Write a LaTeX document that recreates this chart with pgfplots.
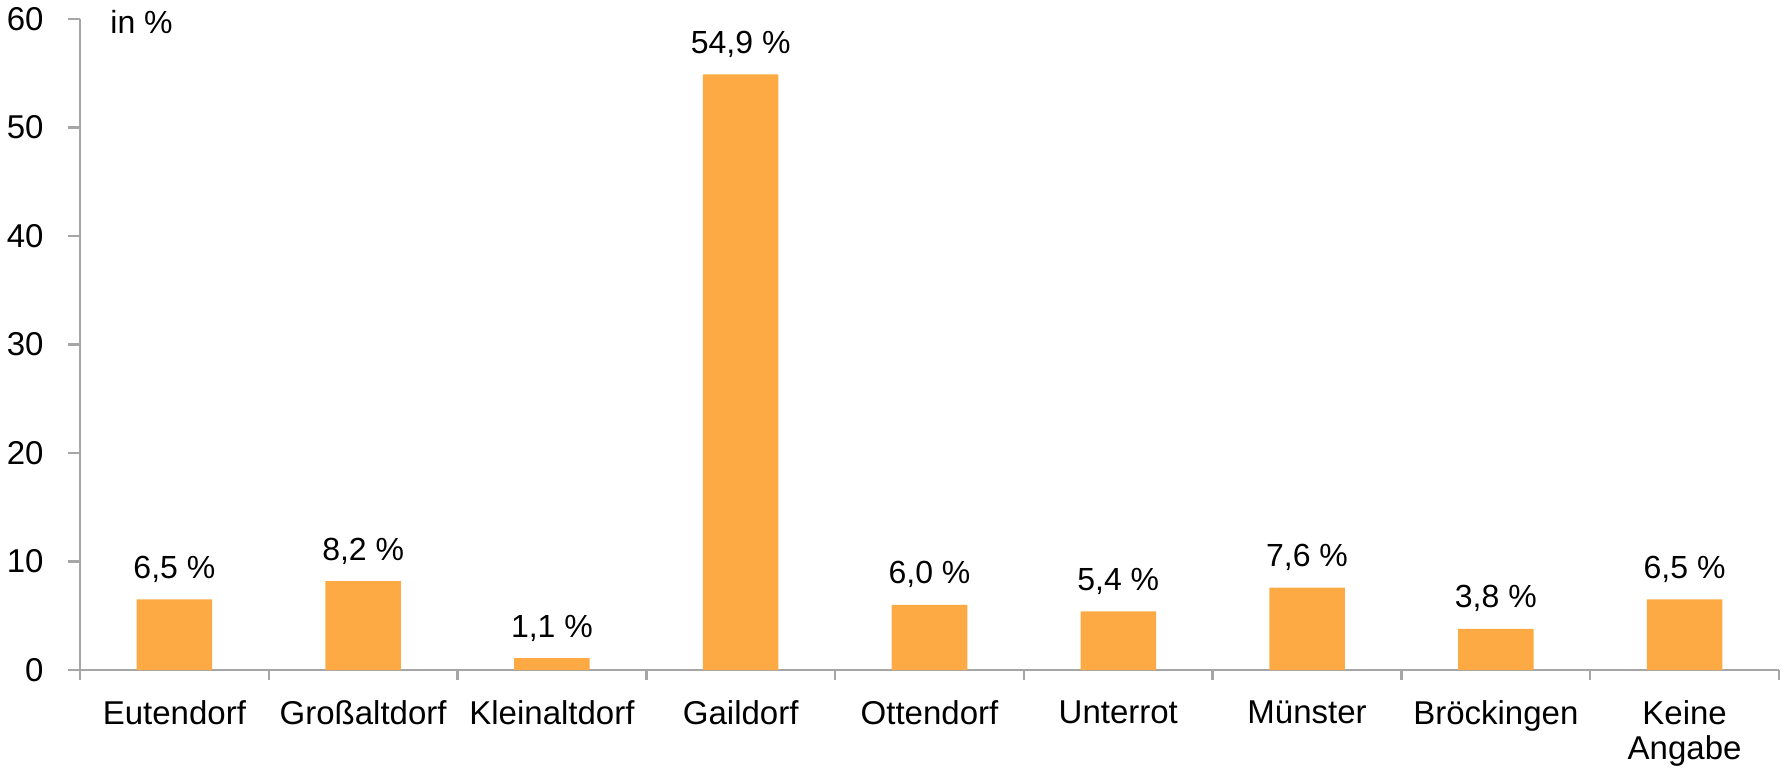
\documentclass[border=0pt]{standalone}
\usepackage{pgfplots}
\pgfplotsset{compat=1.18}
\usepackage{fontspec}
\setmainfont{Liberation Sans}
\definecolor{barorange}{RGB}{253,170,68}
\definecolor{axisgray}{RGB}{166,166,166}
\begin{document}
\begin{tikzpicture}
\begin{axis}[
  at={(0,0)}, anchor=south west,
  scale only axis, width=849.5bp, height=325.5bp,
  xmin=-0.5, xmax=8.5, ymin=0, ymax=60,
  axis x line*=bottom, axis y line*=left,
  axis line style={axisgray, line width=1.2bp},
  ybar, bar width=0.4,
  ytick={0,10,...,60},
  xtick={0,...,8},
  xticklabels={Eutendorf, Großaltdorf, Kleinaltdorf, Gaildorf, Ottendorf, Unterrot, Münster, Bröckingen, {Keine\\Angabe}},
  minor xtick={-0.5,0.5,...,8.5},
  tick align=outside,
  major tick length=6bp, minor tick length=5bp,
  major x tick style={draw=none},
  minor x tick style={axisgray, line width=1.2bp},
  major y tick style={axisgray, line width=1.2bp},
  tick label style={font=\fontsize{16.5bp}{17.5bp}\selectfont, text=black},
  xticklabel style={align=center, anchor=north, inner sep=0pt, yshift=-9bp},
  yticklabel style={anchor=east, inner sep=0pt, xshift=-12bp},
  /pgf/number format/assume math mode=true,
  nodes near coords={\pgfmathprintnumber[fixed, fixed zerofill, precision=1, use comma]{\pgfplotspointmeta}\space\%},
  nodes near coords style={font=\fontsize{16bp}{17.5bp}\selectfont, text=black, anchor=base, inner sep=0pt, yshift=10.5bp},
  clip=false,
]
\addplot[fill=barorange, draw=none] coordinates {
  (0,6.5) (1,8.2) (2,1.1) (3,54.9) (4,6.0) (5,5.4) (6,7.6) (7,3.8) (8,6.5)
};
\node[anchor=base west, inner sep=0pt, font=\fontsize{16bp}{17.5bp}\selectfont] at (rel axis cs:0,1) [xshift=15bp, yshift=-7bp] {in \%};
\end{axis}
\pgfresetboundingbox
\path[use as bounding box] (-40bp,-50.5bp) rectangle (853bp,335bp);
\end{tikzpicture}
\end{document}
